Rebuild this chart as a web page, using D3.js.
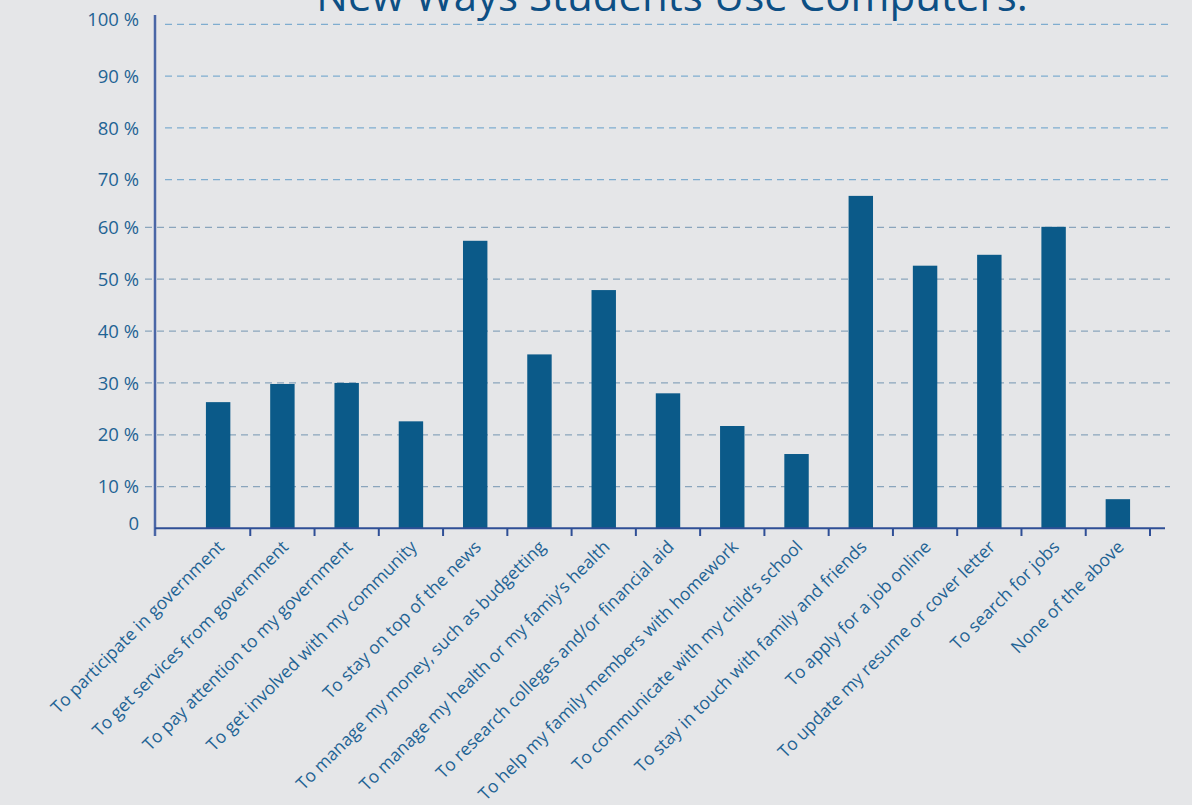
<!DOCTYPE html>
<html>
<head>
<meta charset="utf-8">
<script src="https://cdn.jsdelivr.net/npm/d3@7"></script>
<style>
  html, body { margin: 0; padding: 0; background: #e5e6e8; }
  svg { display: block; }
  text { font-family: "Open Sans", "Noto Sans", sans-serif; }
</style>
</head>
<body>
<svg id="chart" width="1192" height="805"></svg>
<script>
// Survey: "New Ways Students Use Computers" (share of respondents, %)
const categories = [
  "To participate in government",
  "To get services from government",
  "To pay attention to my government",
  "To get involved with my community",
  "To stay on top of the news",
  "To manage my money, such as budgetting",
  "To manage my health or my famiy’s health",
  "To research colleges and/or financial aid",
  "To help my family members with homework",
  "To communicate with my child’s school",
  "To stay in touch with family and friends",
  "To apply for a job online",
  "To update my resume or cover letter",
  "To search for jobs",
  "None of the above"
];
const values = [26.3, 29.8, 30.0, 22.6, 57.4, 35.5, 47.9, 28.0, 21.7, 16.3, 66.6, 52.6, 54.7, 60.1, 7.0];

const yTicks = [0, 10, 20, 30, 40, 50, 60, 70, 80, 90, 100];
const yTickLabels = ["0", "10 %", "20 %", "30 %", "40 %", "50 %", "60 %", "70 %", "80 %", "90 %", "100 %"];
const titleText = "New Ways Students Use Computers:";

const W = 1192, H = 805;
const axisX = 155, axisY = 528.3, axisTop = 15, axisRight = 1165, gridRight = 1170;

const svg = d3.select("#chart");
svg.append("rect").attr("width", W).attr("height", H).attr("fill", "#e5e6e8");

// The printed value axis is not evenly spaced: the 0–10 and 60–70 steps are shorter.
const y = d3.scaleLinear()
  .domain([0, 10, 60, 70, 100])
  .range([axisY, 486.7, 227.3, 179.7, 24.3]);

const x = d3.scaleBand()
  .domain(categories)
  .range([186, 1150])
  .paddingInner(0.62)
  .paddingOuter(0.31);

// Title, running off the top edge of the page
svg.append("text")
  .attr("x", 672).attr("y", 11)
  .attr("text-anchor", "middle")
  .attr("font-size", 42)
  .attr("fill", "#0d4f84")
  .text(titleText);

// Dashed gridlines
const grid = svg.append("g");
grid.selectAll("line")
  .data(yTicks.filter(d => d > 0))
  .join("line")
  .attr("x1", d => d >= 70 ? 165 : 145)
  .attr("x2", gridRight)
  .attr("y1", d => y(d)).attr("y2", d => y(d))
  .attr("stroke", d => d >= 70 ? "#7fadcf" : "#8aa5bc")
  .attr("stroke-width", 1.3)
  .attr("stroke-dasharray", "7,5");

// Value labels
svg.append("g").selectAll("text")
  .data(yTicks)
  .join("text")
  .attr("x", 139)
  .attr("y", d => y(d))
  .attr("dy", d => (d === 0 || d === 100) ? "0.09em" : "0.36em")
  .attr("text-anchor", "end")
  .attr("font-size", 18.5)
  .attr("fill", "#1f6394")
  .text((d, i) => yTickLabels[i]);

// Bars
svg.append("g").selectAll("rect")
  .data(values)
  .join("rect")
  .attr("x", (d, i) => x(categories[i]))
  .attr("width", x.bandwidth())
  .attr("y", d => y(d))
  .attr("height", d => axisY - y(d))
  .attr("fill", "#0b5a89");

// Axis lines
svg.append("line")
  .attr("x1", axisX).attr("x2", axisX)
  .attr("y1", axisTop).attr("y2", 536)
  .attr("stroke", "#4a66a6").attr("stroke-width", 2.5);

svg.append("line")
  .attr("x1", axisX).attr("x2", axisRight)
  .attr("y1", axisY).attr("y2", axisY)
  .attr("stroke", "#2f4f96").attr("stroke-width", 2);

// Category separators below the baseline
svg.append("g").selectAll("line")
  .data(categories)
  .join("line")
  .attr("x1", d => x(d) + x.bandwidth() / 2 + x.step() / 2)
  .attr("x2", d => x(d) + x.bandwidth() / 2 + x.step() / 2)
  .attr("y1", axisY).attr("y2", 536)
  .attr("stroke", "#2f4f96").attr("stroke-width", 2);

// Rotated category labels
svg.append("g").selectAll("text")
  .data(categories)
  .join("text")
  .attr("transform", d => `translate(${x(d) + x.bandwidth() / 2 + 7},548) rotate(-45)`)
  .attr("text-anchor", "end")
  .attr("font-size", 17.5)
  .attr("fill", "#1f6394")
  .text(d => d);
</script>
</body>
</html>
